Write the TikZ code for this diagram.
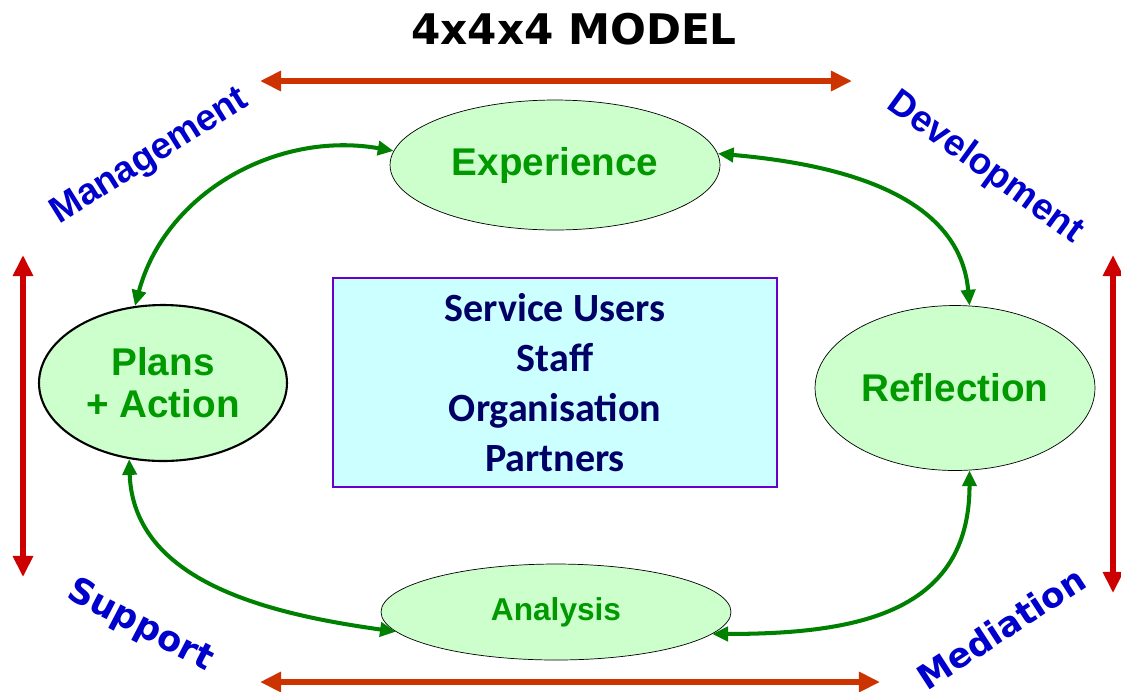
\documentclass[tikz,border=0pt]{standalone}
\usepackage{fontspec}
\setmainfont{Liberation Sans}
\newfontfamily\titlefont{DejaVu Sans}
\newfontfamily\boxfont{Carlito}
\usetikzlibrary{shapes.geometric,arrows.meta}

\definecolor{stagefill}{HTML}{CCFFCC}
\definecolor{stagetext}{HTML}{009900}
\definecolor{loopgreen}{HTML}{008000}
\definecolor{rangeorange}{HTML}{CC3300}
\definecolor{rangered}{HTML}{CC0000}
\definecolor{sideblue}{HTML}{0000CC}
\definecolor{groupfill}{HTML}{CCFFFF}
\definecolor{groupline}{HTML}{6600CC}
\definecolor{grouptext}{HTML}{000066}

\begin{document}
\begin{tikzpicture}[x=0.02cm,y=0.02cm,
  stage/.style={ellipse,draw=black,fill=stagefill,inner sep=0pt,align=center,
    text=stagetext,font=\bfseries\fontsize{22}{24}\selectfont},
  looparrow/.style={draw=loopgreen,line width=2.3pt,
    {Triangle[length=9pt,width=8pt]}-{Triangle[length=9pt,width=8pt]}},
  rangearrow/.style={line width=3.2pt,
    {Triangle[length=12pt,width=11pt]}-{Triangle[length=12pt,width=11pt]}},
  sidelabel/.style={text=sideblue,font=\bfseries\fontsize{21}{21}\selectfont}]

\useasboundingbox (0,0) rectangle (1121,-691);

% Title
\node[font=\titlefont\bfseries\fontsize{24}{24}\selectfont] (title) at (574,-29) {4x4x4 MODEL};

% Stages of the cycle
\node[stage,minimum width=6.6cm,minimum height=2.6cm] (exp) at (555,-165) {Experience};
\node[stage,minimum width=5.6cm,minimum height=3.3cm] (refl) at (955,-388) {Reflection};
\node[stage,minimum width=7cm,minimum height=1.92cm,font=\bfseries\fontsize{18}{20}\selectfont] (ana) at (556,-612) {Analysis};
\node[stage,line width=1.2pt,minimum width=4.96cm,minimum height=3.12cm] (plans) at (163,-383) {Plans\\+ Action};

% Centre box
\node[draw=groupline,line width=1.6pt,fill=groupfill,minimum width=8.88cm,minimum height=4.18cm,
  align=center,text=grouptext,font=\boxfont\bfseries\fontsize{22.8}{28.3}\selectfont] (group) at (555,-382.5)
  {Service Users\\Staff\\Organisation\\Partners};

% Cycle arrows
\draw[looparrow] (exp.175) to[out=170,in=75] (plans.110);
\draw[looparrow] (exp.4) to[out=-5,in=95] (refl.80);
\draw[looparrow] (plans.246) to[out=-88,in=172] (ana.187);
\draw[looparrow] (refl.-80) to[out=-90,in=0,looseness=1.2] (ana.-8);

% Outer arrows
\coordinate (topL) at (260,-81);
\coordinate (topR) at (852,-81);
\coordinate (botL) at (260,-682);
\coordinate (botR) at (880,-682);
\coordinate (leftT) at (23,-255);
\coordinate (leftB) at (23,-577);
\coordinate (rightT) at (1113,-255);
\coordinate (rightB) at (1113,-593);
\draw[rangearrow,draw=rangeorange] (topL) -- (topR);
\draw[rangearrow,draw=rangeorange] (botL) -- (botR);
\draw[rangearrow,draw=rangered] (leftT) -- (leftB);
\draw[rangearrow,draw=rangered] (rightT) -- (rightB);

% Corner labels
\node[sidelabel,rotate=32] (mgmt) at (150,-157) {Management};
\node[sidelabel,rotate=-36] (dev) at (985,-168) {Development};
\node[sidelabel,rotate=-27.5,font=\titlefont\bfseries\fontsize{20}{20}\selectfont] (supp) at (140,-626) {Support};
\node[sidelabel,rotate=33,font=\titlefont\bfseries\fontsize{19.5}{20}\selectfont] (med) at (1001,-628) {Mediation};

\end{tikzpicture}
\end{document}
